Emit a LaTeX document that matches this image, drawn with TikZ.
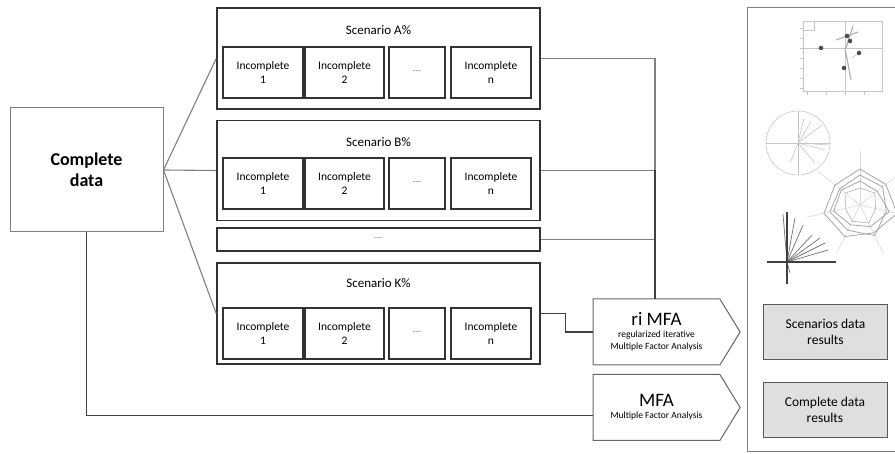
\documentclass[tikz,border=0pt]{standalone}
\usepackage{fontspec}
\setmainfont{Carlito}
\usepackage{tikz}
\usepackage{xcolor}
\usetikzlibrary{shapes.symbols}
\tikzstyle{datanode} = [rectangle, draw=gray, line width=1pt, minimum width=153pt, minimum height=124pt, align=center, font=\fontsize{18}{21}\selectfont\bfseries]
\tikzstyle{scenario} = [rectangle, draw=black!80, line width=1.6pt, minimum width=323pt, minimum height=101pt]
\tikzstyle{title} = [font=\fontsize{13}{15}\selectfont]
\tikzstyle{incomplete} = [rectangle, draw=black!80, line width=1.4pt, minimum height=51pt, align=center, font=\fontsize{11.5}{13.5}\selectfont]
\tikzstyle{method} = [signal, signal to=east, signal pointer angle=117, draw=gray!80!black, line width=1pt, minimum width=147pt, minimum height=66pt, align=center]
\tikzstyle{result} = [rectangle, draw=gray!70!black, fill=gray!25, line width=1pt, minimum width=124pt, minimum height=55pt, align=center, font=\fontsize{13.5}{16}\selectfont]
\tikzstyle{link} = [draw=gray, line width=1.1pt]
\tikzstyle{chart} = [draw=gray!45, line width=0.6pt]
\tikzstyle{dot} = [circle, fill=black!70, inner sep=1.6pt]
\newcommand{\gapdots}{{\color{gray}\fontsize{9}{10}\selectfont -{}-{}-}}

\begin{document}
\begin{tikzpicture}[x=1pt, y=-1pt]
\useasboundingbox (0,0) rectangle (895,454);

\node (cd) [datanode] at (86.5,170) {Complete\\data};

\node (scA) [scenario] at (378.5,58.5) {};
\node (tA) [title] at (378.5,30) {Scenario A\%};
\node (a1) [incomplete, minimum width=80pt] at (263,72.5) {Incomplete\\1};
\node (a2) [incomplete, minimum width=79pt] at (344.5,72.5) {Incomplete\\2};
\node (a3) [incomplete, minimum width=56pt] at (417,72.5) {\gapdots};
\node (an) [incomplete, minimum width=80pt] at (491,72.5) {Incomplete\\n};

\node (scB) [scenario, minimum height=100pt] at (378.5,170.5) {};
\node (tB) [title] at (378.5,142) {Scenario B\%};
\node (b1) [incomplete, minimum width=80pt] at (263,183.5) {Incomplete\\1};
\node (b2) [incomplete, minimum width=79pt] at (344.5,183.5) {Incomplete\\2};
\node (b3) [incomplete, minimum width=56pt] at (417,183.5) {\gapdots};
\node (bn) [incomplete, minimum width=80pt] at (491,183.5) {Incomplete\\n};

\node (scdots) [scenario, minimum height=23pt] at (378.5,239.5) {\gapdots};

\node (scK) [scenario] at (378.5,313.5) {};
\node (tK) [title] at (378.5,283) {Scenario K\%};
\node (k1) [incomplete, minimum width=80pt] at (263,333.5) {Incomplete\\1};
\node (k2) [incomplete, minimum width=79pt] at (344.5,333.5) {Incomplete\\2};
\node (k3) [incomplete, minimum width=56pt] at (417,333.5) {\gapdots};
\node (kn) [incomplete, minimum width=80pt] at (491,333.5) {Incomplete\\n};

\node (rimfa) [method] at (656.5,332) {\fontsize{19}{16}\selectfont ri MFA\\\fontsize{9.5}{13}\selectfont regularized iterative\\\fontsize{9.5}{13}\selectfont Multiple Factor Analysis};
\node (mfa) [method] at (656.5,407.5) {\fontsize{19}{16}\selectfont MFA\\\fontsize{9.5}{14}\selectfont Multiple Factor Analysis};

\node (sres) [result] at (825.5,332) {Scenarios data\\results};
\node (cres) [result] at (825,410) {Complete data\\results};

%panel on the right
\draw [gray, line width=1pt] (896,8) -- (747,8) -- (747,452) -- (896,452);

%scatter plot
\draw [chart] (803,21) rectangle (882,91);
\draw [chart] (803,21) rectangle (814,30);
\draw [chart] (803,48) -- (882,48);
\draw [chart] (845,21) -- (845,91);
\foreach \ty in {28,38,48,58,68,78,88} \draw [chart] (800,\ty) -- (803,\ty);
\foreach \tx in {807,826,845,864} \draw [chart] (\tx,91) -- (\tx,95);
\draw [draw=gray!60, line width=1.2pt] (845,48) -- (851,80);
\draw [draw=gray!60, line width=1.2pt] (836,40) -- (858,32);
\draw [draw=gray!60, line width=1.2pt] (846,48) -- (853,26);
\draw [chart] (852,58) -- (860,52);
\node (p1) [dot] at (821,48) {};
\node (p2) [dot] at (847,36) {};
\node (p3) [dot] at (850,41) {};
\node (p4) [dot] at (859,53) {};
\node (p5) [dot] at (844,68) {};

%correlation circle
\draw [chart] (798,143) circle (32);
\draw [chart] (766,143) -- (830,143);
\draw [chart] (798,111) -- (798,175);
\foreach \px/\py in {811/122, 822/125, 829/145, 825/150, 790/163, 815/163, 804/118}
  \draw [chart] (798,143) -- (\px,\py);

%radar chart
\begin{scope}[shift={(860,205)}]
\foreach \a in {-90,-38.6,12.9,64.3,115.7,167.1,218.6}
  \draw [chart, draw=gray!30] (0,0) -- (\a:54);
\draw [draw=gray!70, line width=0.8pt] (-90:36) \foreach \a/\r in {-38.6/33, 12.9/38, 64.3/31, 115.7/35, 167.1/37, 218.6/32} {-- (\a:\r)} -- cycle;
\draw [draw=gray!70, line width=0.8pt] (-90:30) \foreach \a/\r in {-38.6/29, 12.9/27, 64.3/34, 115.7/28, 167.1/31, 218.6/26} {-- (\a:\r)} -- cycle;
\draw [draw=gray!70, line width=0.8pt] (-90:24) \foreach \a/\r in {-38.6/22, 12.9/30, 64.3/24, 115.7/22, 167.1/27, 218.6/24} {-- (\a:\r)} -- cycle;
\draw [draw=gray!60, line width=0.6pt] (-90:17) \foreach \a/\r in {-38.6/19, 12.9/16, 64.3/20, 115.7/18, 167.1/15, 218.6/19} {-- (\a:\r)} -- cycle;
\end{scope}

%biplot
\foreach \px/\py in {783/214, 795/218, 803/225, 812/235, 820/238, 825/243, 828/250, 835/262, 790/273}
  \draw [draw=black!55, line width=0.7pt] (787,262) -- (\px,\py);
\draw [draw=black!75, line width=1.2pt] (767,262) -- (836,262);
\draw [draw=black!75, line width=1.2pt] (787,212) -- (787,284);

%connectors
\coordinate (bus) at (655,299);
\draw [link] (cd.east) -- (scA.west);
\draw [link] (cd.east) -- (scB.west);
\draw [link] (cd.east) -- (scK.west);
\draw [link] (scA.east) -| (bus);
\draw [link] (scB.east) -- (scB.east -| bus);
\draw [link] (scdots.east) -- (scdots.east -| bus);
\draw [link, draw=black!75] (scB.east -| bus) -- (bus);
\draw [link, draw=black!75] (scK.east) -- ++(25,0) |- (rimfa.west);
\draw [link, draw=black!75, line width=1.6pt] (cd.south) |- ([yshift=-8pt]mfa.west);
\end{tikzpicture}
\end{document}
